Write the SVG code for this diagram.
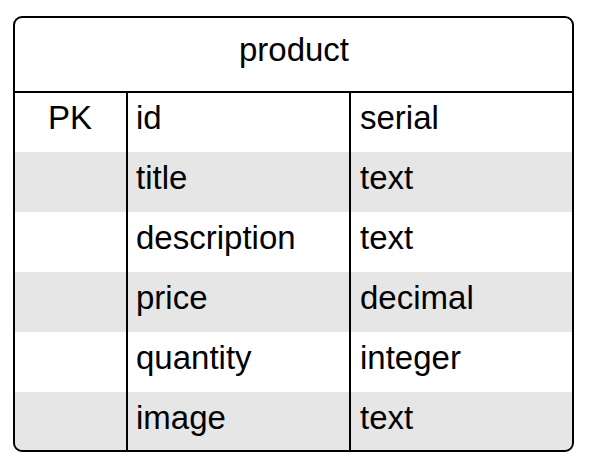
<svg xmlns="http://www.w3.org/2000/svg" width="591" height="473" viewBox="0 0 591 473">
<style>
text{font-family:"Liberation Sans",Arial,sans-serif;font-size:33px;fill:#000}
.alt{fill:#e6e6e6}
.ln{stroke:#000;stroke-width:2;fill:none}
</style>
<rect x="0" y="0" width="591" height="473" fill="#fff"/>
<g id="product">
<rect x="14" y="17" width="559" height="434" rx="8" fill="#fff"/>
<rect class="alt" x="15" y="152" width="557" height="60"/>
<rect class="alt" x="15" y="272" width="557" height="60"/>
<path class="alt" d="M15 392H572V443Q572 450 565 450H22Q15 450 15 443Z"/>
<rect class="ln" x="14" y="17" width="559" height="434" rx="8"/>
<line class="ln" x1="14" y1="92" x2="573" y2="92"/>
<line class="ln" x1="127" y1="92" x2="127" y2="451"/>
<line class="ln" x1="350" y1="92" x2="350" y2="451"/>
<text x="294" y="61" text-anchor="middle">product</text>
<text x="70" y="129" text-anchor="middle">PK</text>
<text x="136" y="129">id</text><text x="360" y="129">serial</text>
<text x="136" y="189">title</text><text x="360" y="189">text</text>
<text x="136" y="249">description</text><text x="360" y="249">text</text>
<text x="136" y="309">price</text><text x="360" y="309">decimal</text>
<text x="136" y="369">quantity</text><text x="360" y="369">integer</text>
<text x="136" y="429">image</text><text x="360" y="429">text</text>
</g>
<g id="connectors"/>
</svg>
